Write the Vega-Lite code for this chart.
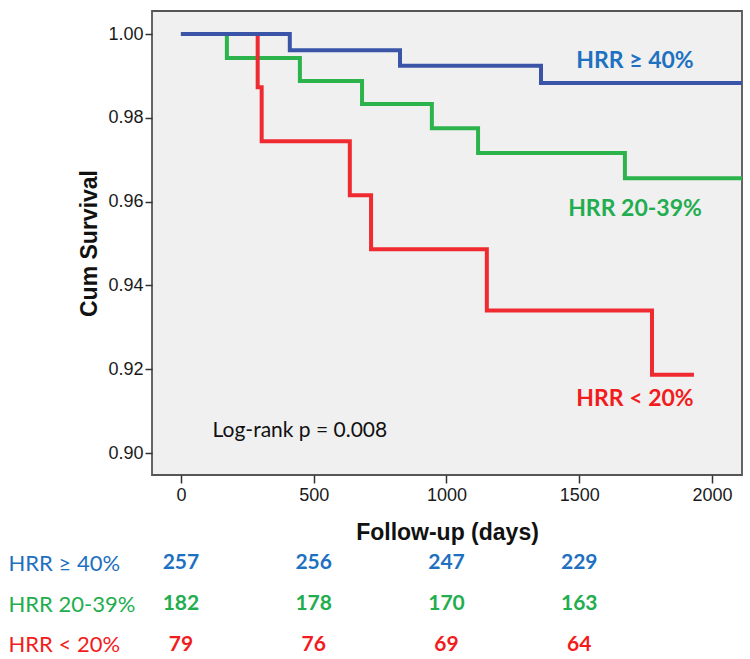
{
  "$schema": "https://vega.github.io/schema/vega-lite/v6.json",
  "padding": {"left": 8, "top": 10, "right": 8, "bottom": 3},
  "background": "white",
  "spacing": 7,
  "config": {"view": {"stroke": null}, "font": "Liberation Sans"},
  "datasets": {
    "km": [
      {"group": "HRR ≥ 40%", "day": 0, "surv": 1.0},
      {"group": "HRR ≥ 40%", "day": 410, "surv": 0.9961},
      {"group": "HRR ≥ 40%", "day": 825, "surv": 0.9924},
      {"group": "HRR ≥ 40%", "day": 1356, "surv": 0.9883},
      {"group": "HRR ≥ 40%", "day": 2150, "surv": 0.9883},
      {"group": "HRR 20-39%", "day": 0, "surv": 1.0},
      {"group": "HRR 20-39%", "day": 173, "surv": 0.9943},
      {"group": "HRR 20-39%", "day": 448, "surv": 0.9888},
      {"group": "HRR 20-39%", "day": 682, "surv": 0.9833},
      {"group": "HRR 20-39%", "day": 945, "surv": 0.9775},
      {"group": "HRR 20-39%", "day": 1119, "surv": 0.9716},
      {"group": "HRR 20-39%", "day": 1672, "surv": 0.9656},
      {"group": "HRR 20-39%", "day": 2150, "surv": 0.9656},
      {"group": "HRR < 20%", "day": 0, "surv": 1.0},
      {"group": "HRR < 20%", "day": 289, "surv": 0.9873},
      {"group": "HRR < 20%", "day": 304, "surv": 0.9744},
      {"group": "HRR < 20%", "day": 636, "surv": 0.9615},
      {"group": "HRR < 20%", "day": 716, "surv": 0.9486},
      {"group": "HRR < 20%", "day": 1152, "surv": 0.934},
      {"group": "HRR < 20%", "day": 1774, "surv": 0.9187},
      {"group": "HRR < 20%", "day": 1932, "surv": 0.9187}
    ],
    "risk": [
      {"group": "HRR ≥ 40%", "day": 0, "n": 257},
      {"group": "HRR ≥ 40%", "day": 500, "n": 256},
      {"group": "HRR ≥ 40%", "day": 1000, "n": 247},
      {"group": "HRR ≥ 40%", "day": 1500, "n": 229},
      {"group": "HRR 20-39%", "day": 0, "n": 182},
      {"group": "HRR 20-39%", "day": 500, "n": 178},
      {"group": "HRR 20-39%", "day": 1000, "n": 170},
      {"group": "HRR 20-39%", "day": 1500, "n": 163},
      {"group": "HRR < 20%", "day": 0, "n": 79},
      {"group": "HRR < 20%", "day": 500, "n": 76},
      {"group": "HRR < 20%", "day": 1000, "n": 69},
      {"group": "HRR < 20%", "day": 1500, "n": 64}
    ]
  },
  "vconcat": [
    {
      "width": 590,
      "height": 464,
      "view": {"fill": "#f0f0f0", "stroke": "#555555", "strokeWidth": 1.8},
      "layer": [
        {
          "data": {"name": "km"},
          "transform": [{"filter": "datum.group == 'HRR 20-39%'"}],
          "mark": {"type": "line", "interpolate": "step-after", "strokeWidth": 4, "clip": true, "strokeCap": "butt"},
          "encoding": {
            "x": {
              "field": "day", "type": "quantitative",
              "scale": {"domain": [-109, 2113], "nice": false, "zero": false},
              "axis": {
                "title": "Follow-up (days)", "values": [0, 500, 1000, 1500, 2000], "format": "d",
                "domain": false, "grid": false, "tickSize": 8, "tickColor": "#333333", "tickWidth": 1.5,
                "labelFont": "Liberation Sans", "labelFontSize": 18, "labelColor": "#1a1a1a", "labelPadding": 3,
                "labelFlush": false, "labelOverlap": false,
                "titleFont": "Liberation Sans", "titleFontSize": 23, "titleFontWeight": "bold", "titleColor": "#111111", "titlePadding": 17
              }
            },
            "y": {
              "field": "surv", "type": "quantitative",
              "scale": {"domain": [0.89475, 1.00549], "nice": false, "zero": false},
              "axis": {
                "title": "Cum Survival", "values": [0.90, 0.92, 0.94, 0.96, 0.98, 1.00], "format": ".2f",
                "domain": false, "grid": false, "tickSize": 7, "tickColor": "#333333", "tickWidth": 1.5,
                "labelFont": "Liberation Sans", "labelFontSize": 18, "labelColor": "#1a1a1a", "labelPadding": 2,
                "labelOverlap": false,
                "titleFont": "Liberation Sans", "titleFontSize": 23, "titleFontWeight": "bold", "titleColor": "#111111", "titlePadding": 6
              }
            },
            "stroke": {"field": "group", "type": "nominal", "scale": {"domain": ["HRR ≥ 40%", "HRR 20-39%", "HRR < 20%"], "range": ["#3a55a8", "#2db34c", "#ef2a30"]}, "legend": null}
          }
        },
        {
          "data": {"name": "km"},
          "transform": [{"filter": "datum.group == 'HRR < 20%'"}],
          "mark": {"type": "line", "interpolate": "step-after", "strokeWidth": 4, "clip": true, "strokeCap": "butt"},
          "encoding": {
            "x": {"field": "day", "type": "quantitative"},
            "y": {"field": "surv", "type": "quantitative"},
            "stroke": {"field": "group", "type": "nominal", "legend": null}
          }
        },
        {
          "data": {"name": "km"},
          "transform": [{"filter": "datum.group == 'HRR ≥ 40%'"}],
          "mark": {"type": "line", "interpolate": "step-after", "strokeWidth": 4, "clip": true, "strokeCap": "butt"},
          "encoding": {
            "x": {"field": "day", "type": "quantitative"},
            "y": {"field": "surv", "type": "quantitative"},
            "stroke": {"field": "group", "type": "nominal", "legend": null}
          }
        },
        {
          "data": {"values": [{"note": "HRR ≥ 40%"}]},
          "mark": {"type": "text", "font": "Lato", "fontWeight": "bold", "fontSize": 23, "fill": "#1e70c1", "align": "center", "baseline": "middle"},
          "encoding": {"x": {"datum": 1710, "type": "quantitative"}, "y": {"datum": 0.9935, "type": "quantitative"}, "text": {"field": "note", "type": "nominal"}}
        },
        {
          "data": {"values": [{"note": "HRR 20-39%"}]},
          "mark": {"type": "text", "font": "Lato", "fontWeight": "bold", "fontSize": 23, "fill": "#22ad4f", "align": "center", "baseline": "middle"},
          "encoding": {"x": {"datum": 1710, "type": "quantitative"}, "y": {"datum": 0.9582, "type": "quantitative"}, "text": {"field": "note", "type": "nominal"}}
        },
        {
          "data": {"values": [{"note": "HRR < 20%"}]},
          "mark": {"type": "text", "font": "Lato", "fontWeight": "bold", "fontSize": 23, "fill": "#f21c1c", "align": "center", "baseline": "middle"},
          "encoding": {"x": {"datum": 1710, "type": "quantitative"}, "y": {"datum": 0.9129, "type": "quantitative"}, "text": {"field": "note", "type": "nominal"}}
        },
        {
          "data": {"values": [{"note": "Log-rank p = 0.008"}]},
          "mark": {"type": "text", "font": "Lato", "fontSize": 21, "fill": "#111111", "align": "center", "baseline": "middle"},
          "encoding": {"x": {"datum": 448, "type": "quantitative"}, "y": {"datum": 0.9052, "type": "quantitative"}, "text": {"field": "note", "type": "nominal"}}
        }
      ]
    },
    {
      "width": 590,
      "height": 98,
      "data": {"name": "risk"},
      "mark": {"type": "text", "font": "Lato", "fontWeight": "bold", "fontSize": 21, "baseline": "middle", "align": "center"},
      "encoding": {
        "x": {"field": "day", "type": "quantitative", "scale": {"domain": [-109, 2113], "nice": false, "zero": false}, "axis": null},
        "y": {
          "field": "group", "type": "nominal",
          "sort": ["HRR ≥ 40%", "HRR 20-39%", "HRR < 20%"],
          "scale": {"type": "point", "padding": 0.2},
          "axis": {
            "title": null, "domain": false, "ticks": false, "grid": false,
            "labelAlign": "left", "labelBaseline": "middle", "labelPadding": 144, "labelLimit": 200,
            "labelFont": "Lato", "labelFontSize": 22,
            "labelColor": {
              "condition": [
                {"test": "datum.value === 'HRR ≥ 40%'", "value": "#1e70c1"},
                {"test": "datum.value === 'HRR 20-39%'", "value": "#22ad4f"}
              ],
              "value": "#f21c1c"
            }
          }
        },
        "text": {"field": "n", "type": "quantitative"},
        "fill": {"field": "group", "type": "nominal", "scale": {"domain": ["HRR ≥ 40%", "HRR 20-39%", "HRR < 20%"], "range": ["#1e70c1", "#22ad4f", "#f21c1c"]}, "legend": null}
      }
    }
  ]
}
